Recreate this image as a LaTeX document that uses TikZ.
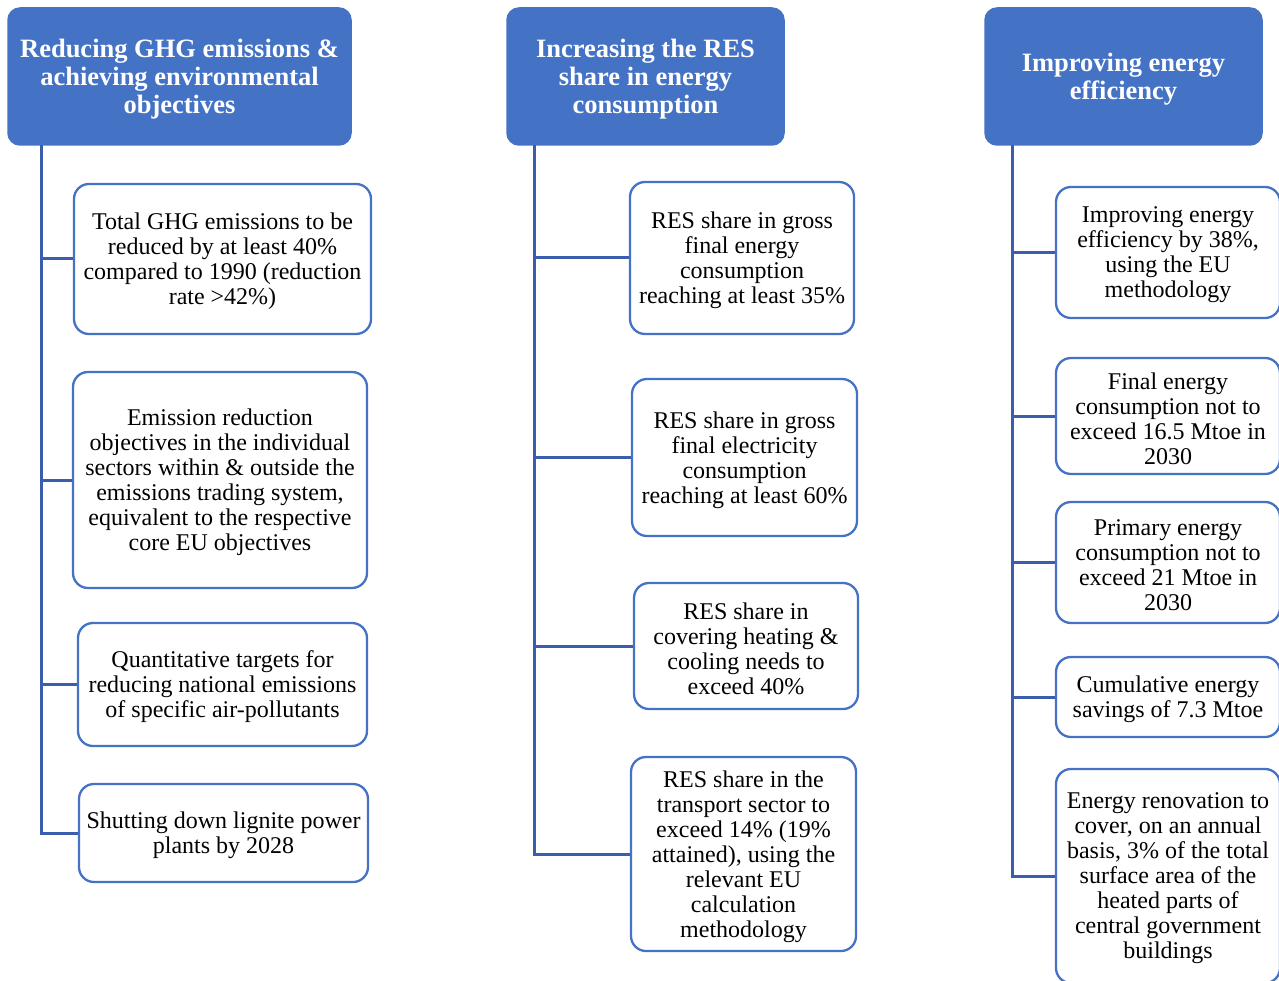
\documentclass[tikz,border=0pt]{standalone}
\usepackage{fontspec}
\setmainfont{Liberation Serif}
\definecolor{hdrblue}{HTML}{4472C4}
\definecolor{boxblue}{HTML}{4472C4}
\definecolor{linkblue}{HTML}{3A5DAE}
\begin{document}
\begin{tikzpicture}[x=1pt,y=-1pt,
  hdr/.style={draw=hdrblue, fill=hdrblue, rounded corners=12pt, line width=1.5pt,
    inner sep=0pt, minimum height=137pt},
  hdrtext/.style={text=white, font=\fontsize{26.5}{28}\selectfont\bfseries, align=center,
    inner sep=0pt, yshift=-2.5pt},
  itembox/.style={draw=boxblue, fill=white, rounded corners=15pt, line width=2.3pt,
    inner sep=0pt},
  itemtext/.style={font=\fontsize{24}{25}\selectfont, align=center, inner sep=0pt,
    yshift=-2.5pt},
  conn/.style={draw=linkblue, line width=3pt}]
\useasboundingbox (0,0) rectangle (1279,981);
\clip (0,0) rectangle (1279,981);
% headers
\node[hdr, minimum width=343pt, label={[hdrtext]center:{Reducing GHG emissions \&\\achieving environmental\\objectives}}] (h1) at (179.5,76.5) {};
\node[hdr, minimum width=277pt, label={[hdrtext]center:{Increasing the RES\\share in energy\\consumption}}] (h2) at (645.5,76.5) {};
\node[hdr, minimum width=277pt, label={[hdrtext]center:{Improving energy\\efficiency}}] (h3) at (1123.5,76.5) {};
% column 1
\node[itembox, minimum width=297pt, minimum height=150pt, label={[itemtext]center:{Total GHG emissions to be\\reduced by at least 40\%\\compared to 1990 (reduction\\rate >42\%)}}] (b1) at (222.5,259) {};
\node[itembox, minimum width=294pt, minimum height=216pt, label={[itemtext]center:{Emission reduction\\objectives in the individual\\sectors within \& outside the\\emissions trading system,\\equivalent to the respective\\core EU objectives}}] (b2) at (220,480) {};
\node[itembox, minimum width=289pt, minimum height=123pt, label={[itemtext]center:{Quantitative targets for\\reducing national emissions\\of specific air-pollutants}}] (b3) at (222.5,684.5) {};
\node[itembox, minimum width=289pt, minimum height=98pt, label={[itemtext]center:{Shutting down lignite power\\plants by 2028}}] (b4) at (223.5,833) {};
% column 2
\node[itembox, minimum width=224pt, minimum height=152pt, label={[itemtext]center:{RES share in gross\\final energy\\consumption\\reaching at least 35\%}}] (c1) at (742,258) {};
\node[itembox, minimum width=225pt, minimum height=157pt, label={[itemtext]center:{RES share in gross\\final electricity\\consumption\\reaching at least 60\%}}] (c2) at (744.5,457.5) {};
\node[itembox, minimum width=224pt, minimum height=126pt, label={[itemtext]center:{RES share in\\covering heating \&\\cooling needs to\\exceed 40\%}}] (c3) at (746,646) {};
\node[itembox, minimum width=225pt, minimum height=194pt, label={[itemtext]center:{RES share in the\\transport sector to\\exceed 14\% (19\%\\attained), using the\\relevant EU\\calculation\\methodology}}] (c4) at (743.5,854) {};
% column 3
\node[itembox, minimum width=224pt, minimum height=131pt, label={[itemtext]center:{Improving energy\\efficiency by 38\%,\\using the EU\\methodology}}] (d1) at (1168,252.5) {};
\node[itembox, minimum width=224pt, minimum height=116pt, label={[itemtext]center:{Final energy\\consumption not to\\exceed 16.5 Mtoe in\\2030}}] (d2) at (1168,416) {};
\node[itembox, minimum width=224pt, minimum height=121pt, label={[itemtext]center:{Primary energy\\consumption not to\\exceed 21 Mtoe in\\2030}}] (d3) at (1168,562.5) {};
\node[itembox, minimum width=224pt, minimum height=80pt, label={[itemtext]center:{Cumulative energy\\savings of 7.3 Mtoe}}] (d4) at (1168,697) {};
\node[itembox, minimum width=224pt, minimum height=214pt, label={[itemtext]center:{Energy renovation to\\cover, on an annual\\basis, 3\% of the total\\surface area of the\\heated parts of\\central government\\buildings}}] (d5) at (1168,876) {};
% trunks
\coordinate (t1) at (41,145);
\coordinate (t2) at (534,145);
\coordinate (t3) at (1012,145);
\draw[conn] (t1) |- (b4.west);
\draw[conn] (t1 |- b1.west) -- (b1.west);
\draw[conn] (t1 |- b2.west) -- (b2.west);
\draw[conn] (t1 |- b3.west) -- (b3.west);
\draw[conn] (t2) |- (c4.west);
\draw[conn] (t2 |- c1.west) -- (c1.west);
\draw[conn] (t2 |- c2.west) -- (c2.west);
\draw[conn] (t2 |- c3.west) -- (c3.west);
\draw[conn] (t3) |- (d5.west);
\draw[conn] (t3 |- d1.west) -- (d1.west);
\draw[conn] (t3 |- d2.west) -- (d2.west);
\draw[conn] (t3 |- d3.west) -- (d3.west);
\draw[conn] (t3 |- d4.west) -- (d4.west);
\end{tikzpicture}
\end{document}
